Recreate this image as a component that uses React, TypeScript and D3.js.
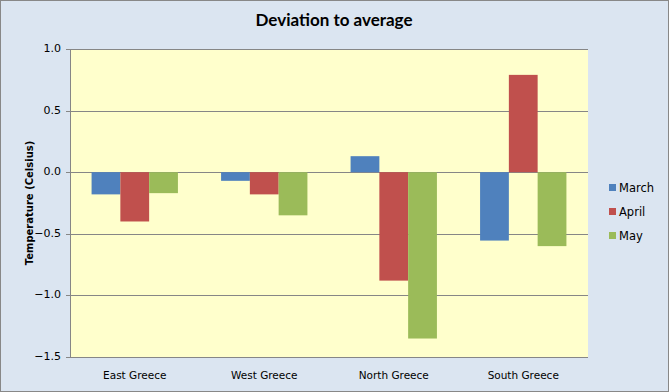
import * as d3 from "d3";

const categories = ["East Greece", "West Greece", "North Greece", "South Greece"];
const seriesNames = ["March", "April", "May"];
const march = [-0.18, -0.07, 0.13, -0.555];
const april = [-0.4, -0.18, -0.88, 0.79];
const may = [-0.17, -0.35, -1.35, -0.6];
const yTicks = [1.0, 0.5, 0.0, -0.5, -1.0, -1.5];

const COLORS = ["#4F81BD", "#C0504D", "#9BBB59"];
const WIDTH = 669;
const HEIGHT = 392;
const PLOT = { left: 70, right: 588, top: 49, bottom: 357 };

const App = () => {
  const values = [march, april, may];

  const x = d3
    .scaleBand<string>()
    .domain(categories)
    .range([PLOT.left, PLOT.right])
    .paddingInner(0)
    .paddingOuter(0);

  // Excel gap width 150%: bar width = band / (3 + 1.5)
  const barW = x.bandwidth() / 4.5;
  const gap = barW * 0.75;

  const y = d3.scaleLinear().domain([-1.5, 1.0]).range([PLOT.bottom, PLOT.top]);

  return (
    <svg
      width={WIDTH}
      height={HEIGHT}
      style={{ position: "absolute", left: 0, top: 0 }}
    >
      <rect x={0.5} y={0.5} width={WIDTH - 1} height={HEIGHT - 1} fill="#DBE5F1" stroke="#888" />
      <rect
        x={PLOT.left}
        y={PLOT.top}
        width={PLOT.right - PLOT.left}
        height={PLOT.bottom - PLOT.top}
        fill="#FFFFCC"
      />
      {yTicks.map((t) => (
        <g key={t}>
          <line
            x1={PLOT.left - 4}
            x2={PLOT.right}
            y1={Math.round(y(t)) + 0.5}
            y2={Math.round(y(t)) + 0.5}
            stroke="#868686"
          />
          <text
            x={PLOT.left - 9}
            y={y(t)}
            textAnchor="end"
            dominantBaseline="middle"
            fontSize={11}
            fontFamily="DejaVu Sans"
            fill="#000"
          >
            {d3.format(".1f")(t)}
          </text>
        </g>
      ))}
      <line
        x1={PLOT.left + 0.5}
        x2={PLOT.left + 0.5}
        y1={PLOT.top}
        y2={PLOT.bottom}
        stroke="#868686"
      />
      {categories.map((c, i) => (
        <g key={c}>
          {values.map((s, j) => {
            const v = s[i];
            const bx = (x(c) as number) + gap + j * barW;
            return (
              <rect
                key={j}
                x={bx}
                y={y(Math.max(0, v))}
                width={barW}
                height={Math.abs(y(v) - y(0))}
                fill={COLORS[j]}
              />
            );
          })}
          <text
            x={(x(c) as number) + x.bandwidth() / 2}
            y={376}
            textAnchor="middle"
            dominantBaseline="middle"
            fontSize={10.5}
            fontFamily="DejaVu Sans"
            fill="#000"
          >
            {c}
          </text>
        </g>
      ))}
      <text
        x={334}
        y={22}
        textAnchor="middle"
        dominantBaseline="middle"
        fontSize={17}
        fontWeight="bold"
        fontFamily="Lato"
        fill="#000"
      >
        Deviation to average
      </text>
      <text
        transform={`translate(30, ${(PLOT.top + PLOT.bottom) / 2}) rotate(-90)`}
        textAnchor="middle"
        dominantBaseline="middle"
        fontSize={10}
        fontWeight="bold"
        fontFamily="DejaVu Sans"
        fill="#000"
      >
        Temperature (Celsius)
      </text>
      {seriesNames.map((n, j) => (
        <g key={n} transform={`translate(609, ${188 + j * 24})`}>
          <rect x={0} y={-4} width={7} height={7} fill={COLORS[j]} />
          <text x={10} y={0} dominantBaseline="middle" fontSize={11.5} fontFamily="DejaVu Sans" fill="#000">
            {n}
          </text>
        </g>
      ))}
    </svg>
  );
};

export default App;
